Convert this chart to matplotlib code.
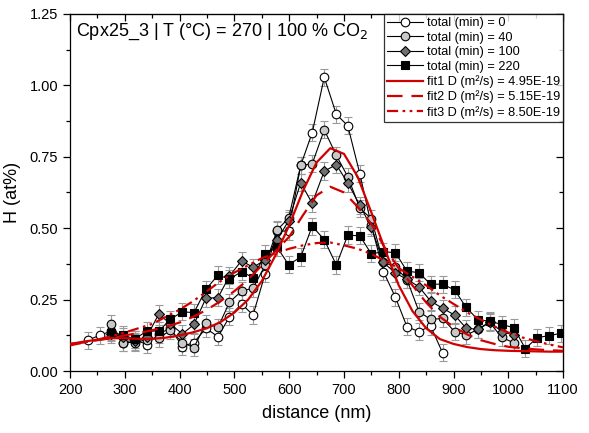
import matplotlib
matplotlib.use("Agg")
import matplotlib.pyplot as plt
import numpy as np

plt.rcParams['font.family'] = ['Liberation Sans', 'DejaVu Sans']

# measured profiles, grid of distances (nm)
dist = [232, 254, 275, 297, 318, 340, 362, 383, 405, 426, 448, 470, 491, 513,
        534, 556, 578, 599, 621, 642, 664, 686, 707, 729, 750, 772, 794, 815,
        837, 858, 880, 902, 923, 945, 966, 988, 1010, 1031, 1053, 1074, 1096]

# 0 min: dist[0:31]
h_0 = [0.108, 0.125, 0.140, 0.100, 0.110, 0.093, 0.130, 0.150, 0.086, 0.100,
       0.150, 0.120, 0.190, 0.235, 0.196, 0.340, 0.490, 0.490, 0.720, 0.834,
       1.028, 0.899, 0.858, 0.690, 0.510, 0.348, 0.258, 0.155, 0.138, 0.158,
       0.064]
# 40 min: dist[2:37]
h_40 = [0.165, 0.100, 0.100, 0.110, 0.115, 0.143, 0.100, 0.082, 0.167, 0.153,
        0.241, 0.280, 0.290, 0.370, 0.494, 0.535, 0.720, 0.725, 0.844, 0.755,
        0.680, 0.570, 0.533, 0.380, 0.365, 0.320, 0.208, 0.181, 0.184, 0.138,
        0.126, 0.146, 0.170, 0.118, 0.099]
# 100 min: dist[2:37]
h_100 = [0.130, 0.120, 0.105, 0.120, 0.200, 0.165, 0.130, 0.163, 0.255, 0.257,
         0.333, 0.386, 0.363, 0.389, 0.460, 0.526, 0.659, 0.587, 0.700, 0.722,
         0.658, 0.580, 0.503, 0.380, 0.343, 0.321, 0.295, 0.245, 0.220, 0.196,
         0.150, 0.146, 0.173, 0.138, 0.126]
# 220 min: dist[2:41]
h_220 = [0.135, 0.126, 0.112, 0.140, 0.140, 0.181, 0.208, 0.204, 0.286, 0.336,
         0.322, 0.348, 0.327, 0.410, 0.433, 0.372, 0.399, 0.507, 0.460, 0.371,
         0.476, 0.473, 0.410, 0.418, 0.414, 0.350, 0.344, 0.304, 0.304, 0.284,
         0.223, 0.179, 0.175, 0.163, 0.152, 0.079, 0.117, 0.124, 0.132]
h_err = 0.03

# fitted curves
fit_x = list(range(200, 1101, 25))
fit1 = [0.095, 0.103, 0.110, 0.115, 0.115, 0.113, 0.113, 0.117, 0.125, 0.136,
        0.150, 0.172, 0.205, 0.250, 0.315, 0.405, 0.510, 0.630, 0.730, 0.780,
        0.760, 0.680, 0.555, 0.425, 0.300, 0.210, 0.150, 0.112, 0.095, 0.084,
        0.077, 0.073, 0.071, 0.070, 0.069, 0.068, 0.068]
fit2 = [0.095, 0.100, 0.108, 0.115, 0.125, 0.133, 0.143, 0.155, 0.170, 0.190,
        0.215, 0.245, 0.280, 0.320, 0.370, 0.420, 0.470, 0.545, 0.615, 0.645,
        0.625, 0.575, 0.515, 0.430, 0.360, 0.300, 0.240, 0.190, 0.155, 0.128,
        0.108, 0.095, 0.085, 0.080, 0.076, 0.073, 0.071]
fit3 = [0.090, 0.100, 0.110, 0.122, 0.135, 0.150, 0.165, 0.190, 0.215, 0.245,
        0.280, 0.315, 0.345, 0.370, 0.395, 0.412, 0.428, 0.440, 0.448, 0.450,
        0.440, 0.428, 0.410, 0.385, 0.360, 0.330, 0.300, 0.265, 0.235, 0.205,
        0.180, 0.155, 0.135, 0.118, 0.105, 0.093, 0.083]

fig = plt.figure(figsize=(5.89, 4.33), dpi=100)
ax = fig.add_axes([0.119, 0.143, 0.837, 0.825])

series = [
    (dist[0:31], h_0, 'o', 'white', 6.2, 'total (min) = 0'),
    (dist[2:37], h_40, 'o', '#c8c8c8', 6.2, 'total (min) = 40'),
    (dist[2:37], h_100, 'D', '#707070', 5.2, 'total (min) = 100'),
    (dist[2:41], h_220, 's', 'black', 5.2, 'total (min) = 220'),
]
for x, y, m, fc, ms, lab in series:
    ax.errorbar(x, y, yerr=h_err, fmt='none', ecolor='#9a9a9a', elinewidth=0.8,
                capsize=3, capthick=0.8, zorder=2)
    ax.plot(x, y, marker=m, color='black', lw=0.8, mfc=fc, mec='black',
            mew=0.8, ms=ms, label=lab, zorder=3)

red = '#d10000'
ax.plot(fit_x, fit1, color=red, lw=1.6, label='fit1 D (m²/s) = 4.95E-19', zorder=4)
ax.plot(fit_x, fit2, color=red, lw=1.6, ls=(0, (7, 4)),
        label='fit2 D (m²/s) = 5.15E-19', zorder=4)
ax.plot(fit_x, fit3, color=red, lw=1.6, ls=(0, (5, 2, 1.2, 2, 1.2, 2)),
        label='fit3 D (m²/s) = 8.50E-19', zorder=4)

ax.set_xlim(200, 1100)
ax.set_ylim(0, 1.25)
ax.set_xticks(np.arange(200, 1101, 100))
ax.set_xticks(np.arange(250, 1100, 100), minor=True)
ax.set_yticks(np.arange(0, 1.26, 0.25))
ax.set_yticks(np.arange(0.125, 1.25, 0.25), minor=True)
ax.yaxis.set_major_formatter(matplotlib.ticker.FormatStrFormatter('%.2f'))
ax.tick_params(which='major', direction='out', length=5, width=0.9, labelsize=10.5)
ax.tick_params(which='minor', direction='out', length=3, width=0.9)
for s in ax.spines.values():
    s.set_linewidth(0.9)

top = ax.secondary_xaxis('top')
top.set_xticks(np.arange(200, 1101, 100))
top.set_xticks(np.arange(250, 1100, 100), minor=True)
top.tick_params(which='major', direction='in', length=5, width=0.9, labeltop=False)
top.tick_params(which='minor', direction='in', length=3, width=0.9)
right = ax.secondary_yaxis('right')
right.set_yticks(np.arange(0, 1.26, 0.25))
right.set_yticks(np.arange(0.125, 1.25, 0.25), minor=True)
right.tick_params(which='major', direction='in', length=5, width=0.9, labelright=False)
right.tick_params(which='minor', direction='in', length=3, width=0.9)

ax.set_xlabel('distance (nm)', fontsize=13, labelpad=6)
ax.set_ylabel('H (at%)', fontsize=13, labelpad=6)

ax.text(0.012, 0.95, 'Cpx25_3 | T (°C) = 270 | 100 % CO$_2$', transform=ax.transAxes,
        fontsize=13, va='center', ha='left')

leg = ax.legend(loc='upper right', fontsize=9.2, borderaxespad=0, frameon=True,
                fancybox=False, edgecolor='black', handlelength=2.8,
                labelspacing=0.2, borderpad=0.25, handletextpad=0.3)
leg.get_frame().set_linewidth(0.9)

fig.savefig('out.png', dpi=100)
